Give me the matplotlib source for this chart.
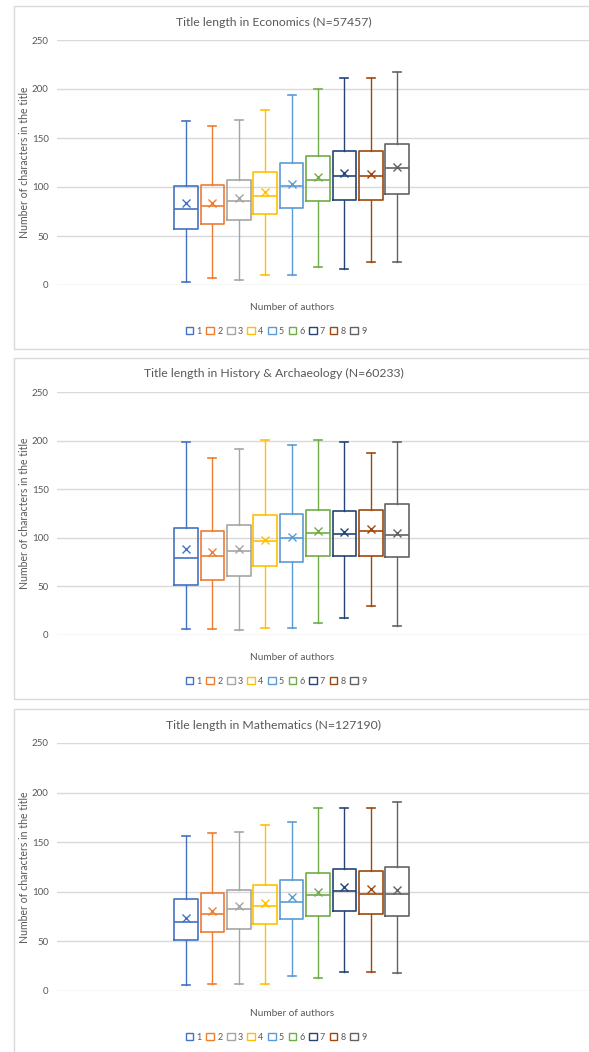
import matplotlib.pyplot as plt
from matplotlib.patches import Rectangle, Patch

W, H = 589, 1052
plt.rcParams['font.family'] = ['Lato', 'DejaVu Sans']

# --- data ---
authors = [1, 2, 3, 4, 5, 6, 7, 8, 9]
colors = ["#4472C4", "#ED7D31", "#A5A5A5", "#FFC000", "#5B9BD5",
          "#70AD47", "#264478", "#9E480E", "#636363"]

titles = ["Title length in Economics (N=57457)",
          "Title length in History & Archaeology (N=60233)",
          "Title length in Mathematics (N=127190)"]

# Economics
eco_low = [3, 7, 5, 10.5, 10.5, 18, 16, 23, 23]
eco_q1 = [57, 62, 66, 72, 79, 86, 87, 87, 93]
eco_med = [78, 81, 86, 91, 101, 107, 111, 111, 119]
eco_q3 = [101, 102, 107, 115, 125, 132, 137, 137, 144]
eco_high = [167, 162, 168, 179, 194, 200, 211, 211, 217]
eco_mean = [83.5, 83.5, 89, 95, 103, 110, 114, 113, 120]

# History & Archaeology
his_low = [6, 6, 5, 7, 7, 12, 17, 30, 9]
his_q1 = [51, 57, 61, 71, 75, 81, 81, 81, 80]
his_med = [79, 81, 86, 96.5, 100, 105, 104, 106.5, 102.5]
his_q3 = [110, 107, 113, 123.5, 124, 129, 128, 129, 135]
his_high = [198.5, 182, 191.5, 201, 195, 201, 198.5, 187, 198.5]
his_mean = [88, 85.5, 88.5, 98, 100.5, 107, 105.5, 109, 105]

# Mathematics
mat_low = [6.5, 7, 7, 7, 15, 13, 19, 19, 18]
mat_q1 = [51, 59, 63, 67.5, 73, 76, 81, 78, 76]
mat_med = [70, 78, 82.5, 85.5, 90, 96.5, 101, 97.5, 97.5]
mat_q3 = [93, 99, 102, 107, 112, 119, 123, 121, 124.5]
mat_high = [156.5, 159, 160, 167, 170, 184, 184.5, 184.5, 191]
mat_mean = [74, 81, 85.5, 89, 95, 100, 105, 103, 102]

panels = [
    (eco_low, eco_q1, eco_med, eco_q3, eco_high, eco_mean),
    (his_low, his_q1, his_med, his_q3, his_high, his_mean),
    (mat_low, mat_q1, mat_med, mat_q3, mat_high, mat_mean),
]

# pixel layout of each panel: border top/bottom, axes top/bottom, title y, xlabel y, legend y
layout = [
    dict(box=(6, 349), ax=(40, 285), title=22, xlab=307, leg=331),
    dict(box=(358, 699), ax=(392, 635), title=373, xlab=657, leg=681),
    dict(box=(709, 1060), ax=(743, 991), title=725, xlab=1013, leg=1037),
]

grid_c = "#d9d9d9"
text_c = "#595959"

fig = plt.figure(figsize=(W / 100, H / 100), dpi=100)


def fx(x):
    return x / W


def fy(y):
    return 1 - y / H


ax_left = 57
unit = 26.4  # pixels between box centres
x0 = 1 - (186 - ax_left) / unit
x1 = x0 + (W - ax_left) / unit

for p, (lay, data) in enumerate(zip(layout, panels)):
    low, q1, med, q3, high, mean = data
    bt, bb = lay["box"]
    fig.patches.append(Rectangle((fx(14), fy(bb)), fx(W + 10), (bb - bt) / H,
                                 transform=fig.transFigure, fill=False,
                                 edgecolor=grid_c, lw=1))

    at, ab = lay["ax"]
    ax = fig.add_axes([fx(ax_left), fy(ab), fx(W - ax_left), (ab - at) / H])
    for i, a in enumerate(authors):
        st = dict(whislo=low[i], q1=q1[i], med=med[i], q3=q3[i],
                  whishi=high[i], mean=mean[i], fliers=[])
        c = colors[i]
        ax.bxp([st], positions=[a], widths=0.9, showmeans=True,
               showfliers=False,
               boxprops=dict(color=c, lw=1.2),
               whiskerprops=dict(color=c, lw=1.0),
               capprops=dict(color=c, lw=1.2),
               medianprops=dict(color=c, lw=1.2),
               meanprops=dict(marker="x", markeredgecolor=c,
                              markersize=6, markeredgewidth=1.0),
               capwidths=0.3, manage_ticks=False)

    ax.set_xlim(x0, x1)
    ax.set_ylim(0, 250)
    ax.set_yticks([0, 50, 100, 150, 200, 250])
    ax.set_xticks([])
    ax.grid(axis="y", color=grid_c, lw=1)
    ax.set_axisbelow(True)
    for s in ax.spines.values():
        s.set_visible(False)
    ax.tick_params(axis="y", length=0, pad=6, labelsize=7, labelcolor=text_c)

    fig.text(fx(274), fy(lay["title"]), titles[p], ha="center", va="center",
             fontsize=8.8, color=text_c)
    fig.text(fx(292), fy(lay["xlab"]), "Number of authors", ha="center",
             va="center", fontsize=7.2, color=text_c)
    fig.text(fx(25), fy((at + ab) / 2), "Number of characters in the title",
             ha="center", va="center", rotation=90, fontsize=7.6, color=text_c)

    handles = [Patch(facecolor="white", edgecolor=c, lw=1.0) for c in colors]
    fig.legend(handles, [str(a) for a in authors], loc="center",
               bbox_to_anchor=(fx(276), fy(lay["leg"])), ncol=9,
               frameon=False, fontsize=6.5, labelcolor=text_c,
               handlelength=0.85, handleheight=0.85, handletextpad=0.35,
               columnspacing=0.5, borderpad=0)

fig.savefig("out.png", dpi=100)
